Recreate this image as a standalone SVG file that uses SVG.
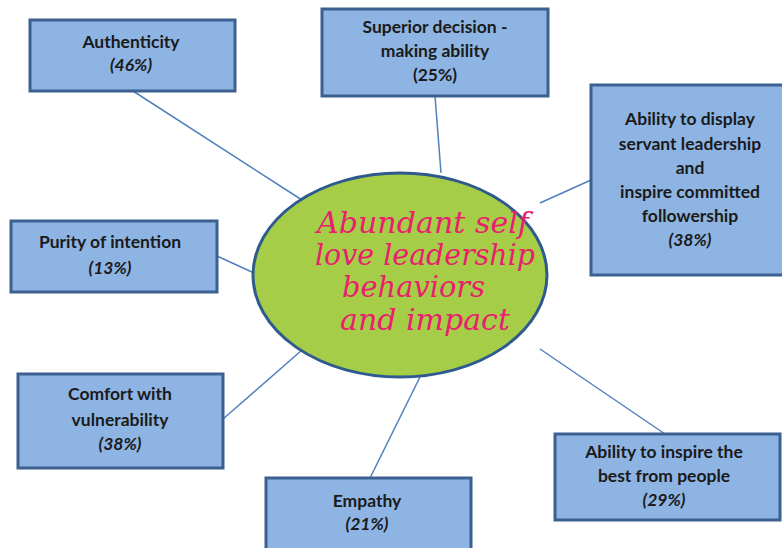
<svg xmlns="http://www.w3.org/2000/svg" width="782" height="548" viewBox="0 0 782 548">
<style>
.box{fill:#8eb4e3;stroke:#3c6090;stroke-width:3}
.t{font-family:Lato,"Open Sans","Liberation Sans",sans-serif;font-weight:bold;font-size:17.5px;fill:#1a1a1a;text-anchor:middle}
.i{font-style:italic}
.c{stroke:#4f81bd;stroke-width:1.5;fill:none}
.h{font-family:"DejaVu Serif","Liberation Serif",serif;font-style:italic;font-size:29px;fill:#e8206e}
</style>
<rect width="782" height="548" fill="#ffffff"/>
<g id="connectors">
<line class="c" x1="133" y1="91" x2="302" y2="200"/>
<line class="c" x1="435" y1="96" x2="441" y2="173"/>
<line class="c" x1="591" y1="180" x2="540" y2="203"/>
<line class="c" x1="217" y1="256" x2="254" y2="273"/>
<line class="c" x1="223" y1="419" x2="302" y2="350"/>
<line class="c" x1="370" y1="478" x2="420" y2="377"/>
<line class="c" x1="665" y1="434" x2="540" y2="349"/>
</g>
<g id="center">
<ellipse cx="400" cy="275" rx="147" ry="102" fill="#a6cd48" stroke="#2f5a8e" stroke-width="3"/>
<text class="h" x="317" y="233" textLength="212" lengthAdjust="spacingAndGlyphs">Abundant self</text>
<text class="h" x="315" y="265" textLength="220" lengthAdjust="spacingAndGlyphs">love leadership</text>
<text class="h" x="342" y="297" textLength="143" lengthAdjust="spacingAndGlyphs">behaviors</text>
<text class="h" x="340" y="330" textLength="170" lengthAdjust="spacingAndGlyphs">and impact</text>
</g>
<g id="n-authenticity">
<rect class="box" x="30" y="20" width="205" height="71"/>
<text class="t" x="131" y="48">Authenticity</text>
<text class="t i" x="131" y="71">(46%)</text>
</g>
<g id="n-superior">
<rect class="box" x="322" y="9" width="226" height="87"/>
<text class="t" x="435" y="33">Superior decision -</text>
<text class="t" x="435" y="57">making  ability</text>
<text class="t" x="435" y="81">(25%)</text>
</g>
<g id="n-servant">
<rect class="box" x="591" y="85" width="200" height="190"/>
<text class="t" x="690" y="125">Ability to display</text>
<text class="t" x="690" y="150">servant  leadership</text>
<text class="t" x="690" y="174">and</text>
<text class="t" x="690" y="198">inspire  committed</text>
<text class="t" x="690" y="222">followership</text>
<text class="t i" x="690" y="246">(38%)</text>
</g>
<g id="n-purity">
<rect class="box" x="11" y="221" width="206" height="71"/>
<text class="t" x="110" y="248">Purity of intention</text>
<text class="t i" x="110" y="274">(13%)</text>
</g>
<g id="n-comfort">
<rect class="box" x="18" y="374" width="205" height="94"/>
<text class="t" x="120" y="400">Comfort with</text>
<text class="t" x="120" y="426">vulnerability</text>
<text class="t i" x="120" y="450">(38%)</text>
</g>
<g id="n-empathy">
<rect class="box" x="266" y="478" width="205" height="80"/>
<text class="t" x="367" y="507">Empathy</text>
<text class="t i" x="367" y="530">(21%)</text>
</g>
<g id="n-inspire">
<rect class="box" x="555" y="434" width="225" height="86"/>
<text class="t" x="664" y="458">Ability to inspire the</text>
<text class="t" x="664" y="482">best from  people</text>
<text class="t i" x="664" y="506">(29%)</text>
</g>
</svg>
